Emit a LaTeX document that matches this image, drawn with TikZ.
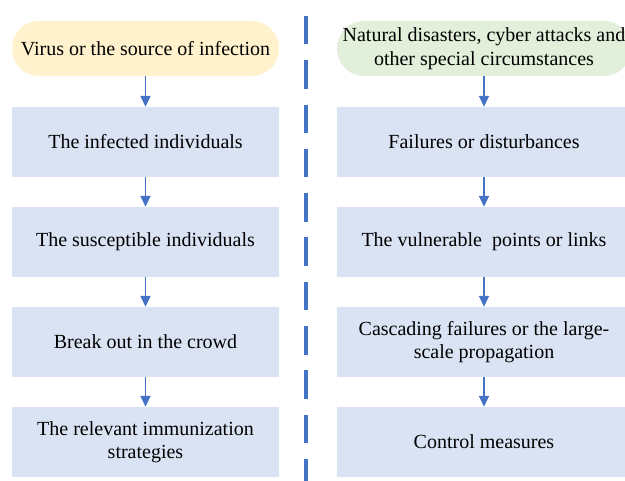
\documentclass[tikz,border=0pt]{standalone}
\usepackage{fontspec}
\setmainfont{Liberation Serif}
\usetikzlibrary{arrows.meta}
\definecolor{pillyellow}{HTML}{FFF2CC}
\definecolor{pillgreen}{HTML}{E2EFDA}
\definecolor{boxblue}{HTML}{DAE3F3}
\definecolor{linkblue}{HTML}{4472C4}
\begin{document}
\begin{tikzpicture}[x=1pt,y=-1pt,
  every node/.style={font=\fontsize{20}{23.5}\selectfont, align=center, inner sep=0pt},
  pill/.style={rounded corners=27pt, minimum height=55pt},
  stepbox/.style={fill=boxblue, minimum height=70pt},
  link/.style={draw=linkblue, line width=1.6pt, -{Triangle[length=11pt,width=10pt]}}]
\useasboundingbox (0,0) rectangle (625,481);
\clip (0,0) rectangle (625,481);
% left column: epidemic spreading
\node[pill, fill=pillyellow, minimum width=267pt] (l0) at (145.5,48.5) {Virus or the source of infection};
\node[stepbox, minimum width=267pt] (l1) at (145.5,142) {The infected individuals};
\node[stepbox, minimum width=267pt] (l2) at (145.5,242) {The susceptible individuals};
\node[stepbox, minimum width=267pt] (l3) at (145.5,342) {Break out in the crowd};
\node[stepbox, minimum width=267pt] (l4) at (145.5,442) {The relevant immunization\\strategies};
% right column: failure propagation
\node[pill, fill=pillgreen, minimum width=294pt] (r0) at (484,48.5) {Natural disasters, cyber attacks and\\other special circumstances};
\node[stepbox, minimum width=294pt] (r1) at (484,142) {Failures or disturbances};
\node[stepbox, minimum width=294pt] (r2) at (484,242) {The vulnerable\ \ points or links};
\node[stepbox, minimum width=294pt] (r3) at (484,342) {Cascading failures or the large-\\scale propagation};
\node[stepbox, minimum width=294pt] (r4) at (484,442) {Control measures};
\foreach \a/\b in {l0/l1,l1/l2,l2/l3,l3/l4,r0/r1,r1/r2,r2/r3,r3/r4}
  \draw[link] (\a.south) -- (\b.north);
% separator between the two columns
\coordinate (s0) at (306,16);
\coordinate (s1) at (306,481);
\draw[linkblue, line width=3.2pt, dash pattern=on 28.5pt off 15.8pt] (s0) -- (s1);
\end{tikzpicture}
\end{document}
